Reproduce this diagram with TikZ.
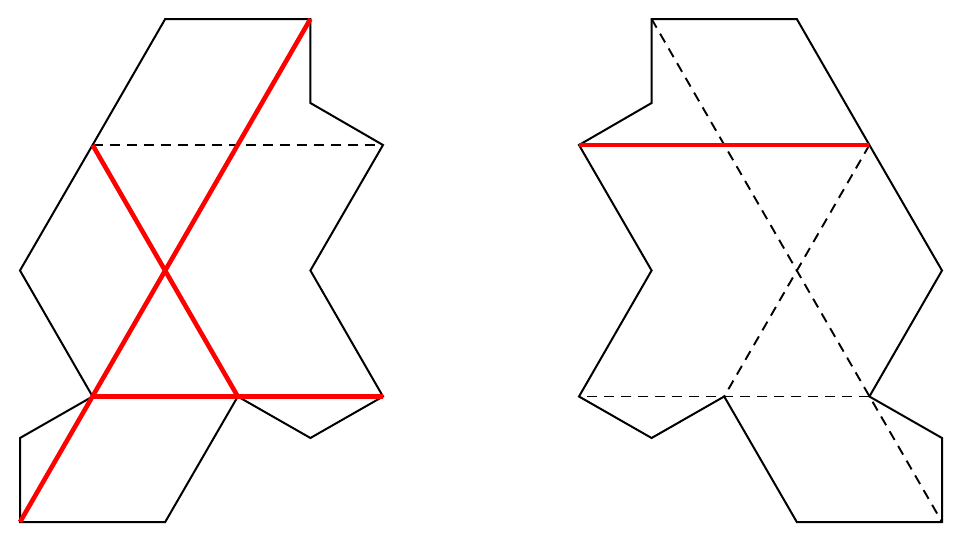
\documentclass[tikz,border=0pt]{standalone}
\begin{document}
\begin{tikzpicture}[x=1pt,y=-1pt,
  outline/.style={draw=black,line width=2pt,line join=miter},
  hidden/.style={draw=black,line width=1.9pt,dash pattern=on 10pt off 7pt},
  redline/.style={draw=red,line width=4.6pt}]
\useasboundingbox (0,0) rectangle (961,541);
% left figure
\coordinate (L1) at (165.2,19);
\coordinate (L2) at (310.4,19);
\coordinate (L3) at (310.4,103);
\coordinate (L4) at (383,145);
\coordinate (L5) at (310.4,270.5);
\coordinate (L6) at (383,396.5);
\coordinate (L7) at (310.4,438);
\coordinate (L8) at (237.8,396.5);
\coordinate (L9) at (165.2,522);
\coordinate (L10) at (20,522);
\coordinate (L11) at (20,438);
\coordinate (L12) at (92.6,396.5);
\coordinate (L13) at (20,270.5);
\coordinate (L14) at (92.6,145);
\draw[outline] (L1)--(L2)--(L3)--(L4)--(L5)--(L6)--(L7)--(L8)--(L9)--(L10)--(L11)--(L12)--(L13)--(L14)--cycle;
\draw[hidden] (L14)--(L4);
\draw[redline] (L2)--(L10);
\draw[redline] (L14)--(L8);
\draw[redline] (L12)--(L6);
% right figure (mirror)
\coordinate (R1) at (796.8,19);
\coordinate (R2) at (651.6,19);
\coordinate (R3) at (651.6,103);
\coordinate (R4) at (579,145);
\coordinate (R5) at (651.6,270.5);
\coordinate (R6) at (579,396.5);
\coordinate (R7) at (651.6,438);
\coordinate (R8) at (724.2,396.5);
\coordinate (R9) at (796.8,522);
\coordinate (R10) at (942,522);
\coordinate (R11) at (942,438);
\coordinate (R12) at (869.4,396.5);
\coordinate (R13) at (942,270.5);
\coordinate (R14) at (869.4,145);
\draw[outline] (R1)--(R2)--(R3)--(R4)--(R5)--(R6)--(R7)--(R8)--(R9)--(R10)--(R11)--(R12)--(R13)--(R14)--cycle;
\draw[hidden] (R2)--(R10);
\draw[hidden] (R14)--(R8);
\draw[hidden] (R12)--(R6);
\draw[redline] (R4)--(R14);
\end{tikzpicture}
\end{document}
